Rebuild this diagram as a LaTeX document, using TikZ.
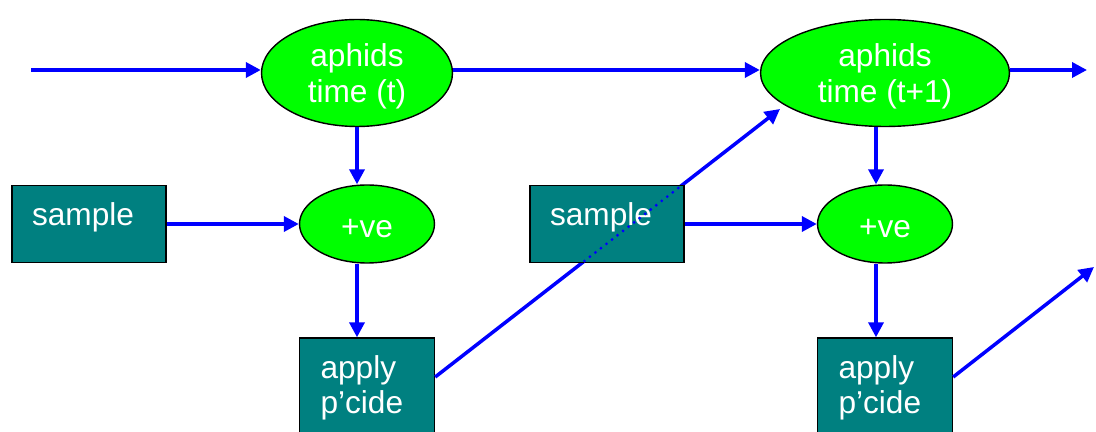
\documentclass[tikz,border=0pt]{standalone}
\usepackage{fontspec}
\setmainfont{Liberation Sans}
\usetikzlibrary{positioning, shapes.geometric, arrows.meta}

\definecolor{blobgreen}{RGB}{0,255,0}
\definecolor{boxteal}{RGB}{0,128,128}
\definecolor{linkblue}{RGB}{0,0,255}

\begin{document}
\begin{tikzpicture}[
    x=0.02cm, y=-0.02cm,
    every node/.style={align=center, text=white, inner sep=0pt,
        font=\fontsize{18}{20}\selectfont},
    blob/.style={ellipse, draw=black, line width=0.8pt, fill=blobgreen},
    box/.style={rectangle, draw=black, line width=0.8pt, fill=boxteal,
        align=left, minimum width=3.08cm, minimum height=1.54cm,
        text width=2.28cm, inner xsep=0.4cm},
    link/.style={draw=linkblue, line width=2pt,
        -{Triangle[length=0.3cm,width=0.3cm]}}
]
    \useasboundingbox (0,0) rectangle (1096,432);

    % aphids at two times
    \node[blob, minimum width=3.82cm, minimum height=2.14cm, text depth=0pt] (aph1) at (357,73) {aphids\\time (t)};
    \node[blob, minimum width=4.98cm, minimum height=2.14cm, text depth=0pt] (aph2) at (885,73) {aphids\\time (t+1)};

    \node[blob, minimum width=2.7cm, minimum height=1.56cm, text height=0.55cm] (pos1) at (367,224) {+ve};
    \node[blob, minimum width=2.7cm, minimum height=1.56cm, text height=0.55cm] (pos2) at (885,224) {+ve};

    \node[box, text depth=0.41cm] (samp1) at (89,224) {sample};
    \node[box, minimum width=2.7cm, minimum height=2cm, text width=1.86cm, inner xsep=0.42cm]
        (app1) at (367,388) {apply\\p’cide};
    \node[box, minimum width=2.7cm, minimum height=2cm, text width=1.86cm, inner xsep=0.42cm]
        (app2) at (885,388) {apply\\p’cide};

    \coordinate (start) at (31,70);
    \coordinate (finish) at (1087,70);
    \coordinate (col2) at (876,0);
    \coordinate (tip1) at (780,109);
    \coordinate (tip2) at (1094,267);

    % diagonal runs behind the second sample box
    \draw[link] ([yshift=0.22cm]app1.east) -- (tip1);
    \node[box, text depth=0.41cm] (samp2) at (607,224) {sample};
    \begin{scope}
        \clip (samp2.south west) rectangle (samp2.north east);
        \draw[linkblue, line width=1.8pt, line cap=round, dash pattern=on 0pt off 0.14cm]
            ([yshift=0.22cm]app1.east) -- (tip1);
    \end{scope}
    \draw[link] ([yshift=0.22cm]app2.east) -- (tip2);

    \draw[link] (start) -- (start -| aph1.west);
    \draw[link] (aph1.east |- start) -- (aph2.west |- start);
    \draw[link] (aph2.east |- start) -- (finish);

    \draw[link] (aph1.south) -- (aph1.south |- pos1.north);
    \draw[link] (pos1.south -| aph1.south) -- (app1.north -| aph1.south);
    \draw[link] (aph2.south -| col2) -- (pos2.north -| col2);
    \draw[link] (pos2.south -| col2) -- (app2.north -| col2);

    \draw[link] (samp1.east |- pos1) -- (pos1.west);
    \draw[link] (samp2.east |- pos2) -- (pos2.west);
\end{tikzpicture}
\end{document}
